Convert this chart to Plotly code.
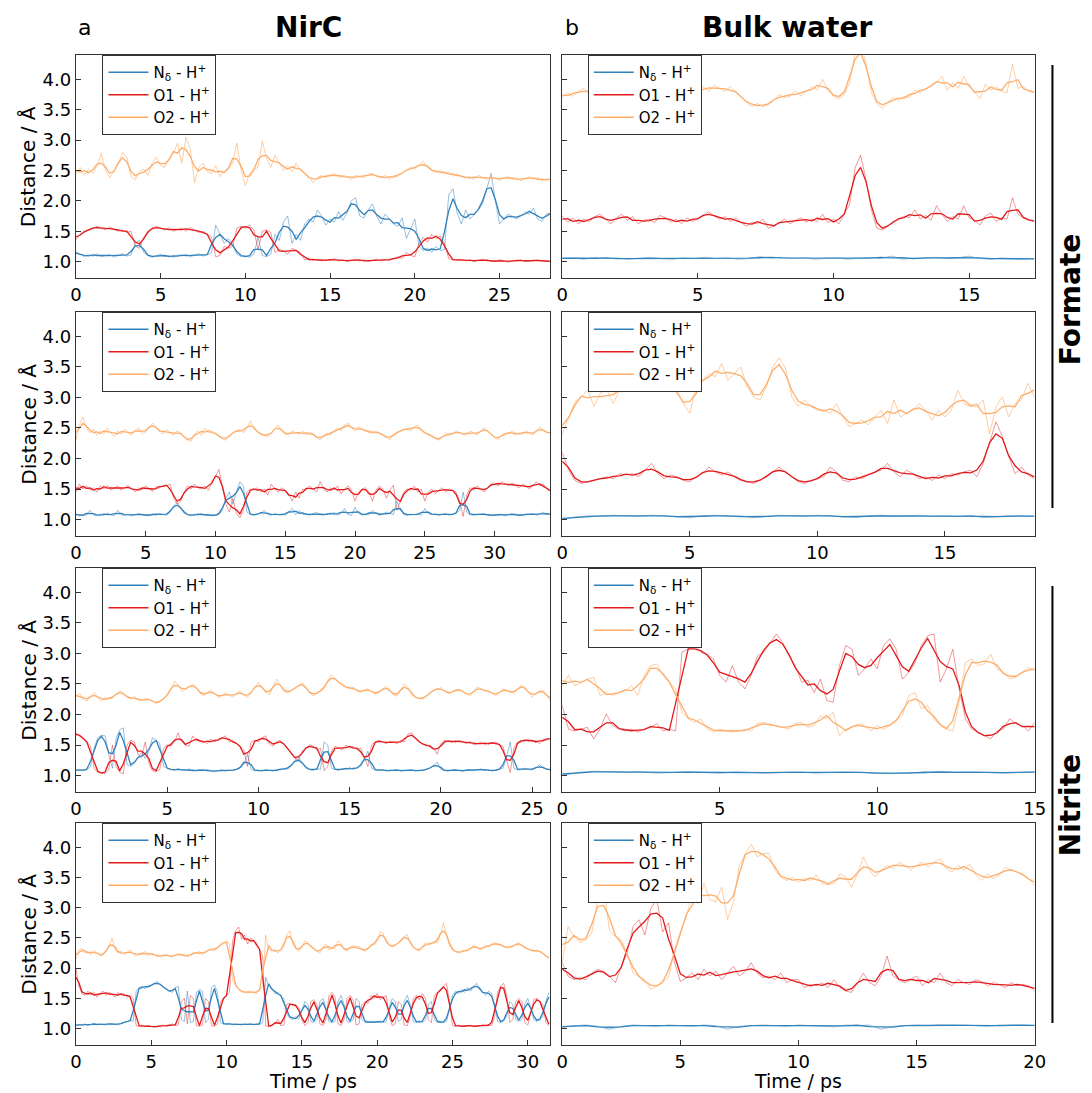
import numpy as np
import pandas as pd
import plotly.graph_objects as go

W, H = 1092, 1093

# ---------------- data (distances in Angstrom) ----------------
# Each series is sampled uniformly in time from 0 to the panel's end time.
SERIES_NAMES = ["N<sub>δ</sub> - H<sup>+</sup>", "O1 - H<sup>+</sup>", "O2 - H<sup>+</sup>"]
COLORS = ["#3182bd", "#e31a1c", "#fdae6b"]
RAW_COLORS = ["rgba(49,130,189,0.5)", "rgba(227,26,28,0.45)", "rgba(253,174,107,0.6)"]
SMOOTH_WINDOW = 3

# Panel a1: NirC / formate (0-28 ps)
A1_END = 28.0
A1_ND = [1.16, 1.12, 1.08, 1.11, 1.09, 1.13, 1.08, 1.10, 1.12, 1.07, 1.10, 1.13, 1.09, 1.11,
         1.30, 1.35, 1.15,
         1.10, 1.07, 1.09, 1.12, 1.08, 1.10, 1.07, 1.11, 1.09, 1.12, 1.08, 1.10, 1.13, 1.09, 1.11, 1.14,
         1.60, 1.45, 1.30, 1.38, 1.30, 1.12, 1.08, 1.10, 1.07, 1.12, 1.40, 1.10, 1.08, 1.12, 1.45, 1.35,
         1.65, 1.75, 1.30, 1.45, 1.35,
         1.62, 1.70, 1.65, 1.85, 1.75, 1.60, 1.70, 1.65, 1.82, 1.68, 1.80, 2.00, 2.05, 1.75, 1.72, 1.85,
         1.95, 1.75, 1.62, 1.78, 1.70, 1.62, 1.58, 1.72, 1.38, 1.55, 1.70,
         1.25, 1.18, 1.22, 1.15, 1.25, 1.18, 1.20,
         2.10, 2.20, 1.80, 1.62, 1.85, 1.70, 1.78, 1.85, 1.95, 2.20, 2.45, 2.00, 1.62, 1.70, 1.78, 1.75,
         1.70, 1.75, 1.82, 1.78, 1.88, 1.70, 1.66, 1.78, 1.80]
A1_O1 = [1.36, 1.45, 1.50, 1.52, 1.55, 1.58, 1.55, 1.52, 1.57, 1.54, 1.50, 1.52, 1.48, 1.50,
         1.25, 1.22, 1.40, 1.50, 1.55, 1.58, 1.55, 1.52, 1.56, 1.50, 1.53, 1.55, 1.50, 1.56, 1.52, 1.48,
         1.50, 1.45, 1.40,
         1.08, 1.10, 1.25, 1.22, 1.25, 1.55, 1.58, 1.55, 1.60, 1.52, 1.20, 1.50, 1.52, 1.48, 1.15, 1.20,
         1.18, 1.12, 1.22, 1.18, 1.15,
         1.03, 1.05, 1.02, 1.04, 1.01, 1.03, 1.02, 1.05, 1.01, 1.03, 1.00, 1.02, 1.04, 1.01, 1.03, 1.00,
         1.02, 1.04, 1.01, 1.03, 1.02, 1.05, 1.08, 1.05, 1.15, 1.10, 1.08,
         1.30, 1.40, 1.32, 1.45, 1.38, 1.42, 1.30,
         1.05, 1.03, 1.02, 1.04, 1.01, 1.03, 1.00, 1.02, 1.04, 1.01, 1.02, 1.00, 1.03, 1.01, 0.99, 1.02,
         1.01, 1.03, 1.00, 1.02, 1.01, 1.03, 1.02, 1.00, 1.01]
A1_O2 = [2.45, 2.55, 2.42, 2.52, 2.45, 2.58, 2.78, 2.50, 2.38, 2.48, 2.60, 2.80, 2.72, 2.40, 2.35, 2.48,
         2.52, 2.42, 2.62, 2.72, 2.58, 2.55, 2.70, 2.78, 2.95, 2.62,
         3.05, 2.85, 2.30, 2.55, 2.62, 2.48, 2.45, 2.58, 2.40, 2.48, 2.52, 2.62, 2.95, 2.50, 2.25, 2.45,
         2.52, 2.55, 2.98, 2.70, 2.55, 2.75, 2.62, 2.50, 2.58, 2.48, 2.62, 2.50, 2.45, 2.40, 2.30, 2.38,
         2.42, 2.38,
         2.42, 2.45, 2.38, 2.42, 2.40, 2.35, 2.42, 2.40, 2.38, 2.44, 2.45, 2.40, 2.38, 2.42, 2.35, 2.42,
         2.40, 2.46, 2.50, 2.55, 2.52, 2.58, 2.65, 2.55, 2.50, 2.47, 2.50, 2.44, 2.48, 2.40, 2.45, 2.40,
         2.37, 2.40, 2.35, 2.42, 2.38, 2.35, 2.40, 2.37, 2.34, 2.38, 2.40, 2.35, 2.38, 2.33, 2.36, 2.40,
         2.35, 2.38, 2.33, 2.36, 2.35]

# Panel b1: bulk water / formate (0-17.4 ps)
B1_END = 17.4
B1_ND = [1.05, 1.06, 1.04, 1.07, 1.05, 1.06, 1.04, 1.05, 1.07, 1.05, 1.04, 1.06, 1.05, 1.07, 1.05,
         1.06, 1.04, 1.05, 1.08, 1.06, 1.07, 1.05, 1.06, 1.04, 1.05, 1.06, 1.04, 1.05, 1.07, 1.05,
         1.09, 1.04, 1.06, 1.05, 1.07, 1.05, 1.06, 1.09, 1.05, 1.04, 1.06, 1.05, 1.04, 1.05]
B1_O1 = [1.75, 1.65, 1.72, 1.62, 1.70, 1.66, 1.74, 1.78, 1.70, 1.62, 1.72, 1.78, 1.68, 1.74, 1.62,
         1.68, 1.70, 1.64, 1.76, 1.72, 1.65, 1.70, 1.62, 1.72, 1.66, 1.70, 1.76, 1.82, 1.75, 1.70,
         1.74, 1.66, 1.72, 1.64, 1.58, 1.65, 1.62, 1.70, 1.55, 1.58, 1.64, 1.70, 1.62, 1.68, 1.72,
         1.65, 1.70, 1.66, 1.78, 1.64, 1.70, 1.62, 1.78, 1.95, 2.55, 2.75, 2.35, 1.85, 1.55, 1.52,
         1.58, 1.66, 1.70, 1.75, 1.72, 1.85, 1.70, 1.76, 1.68, 1.92, 1.78, 1.66, 1.74, 1.70, 1.92,
         1.72, 1.68, 1.60, 1.75, 1.80, 1.66, 1.72, 1.70, 2.05, 1.78, 1.72, 1.68, 1.66]
B1_O2 = [3.70, 3.78, 3.72, 3.80, 3.85, 3.75, 3.80, 3.72, 3.85, 3.78, 3.82, 3.75, 3.90, 3.80, 3.72,
         3.85, 3.78, 3.88, 3.80, 3.75, 3.82, 3.90, 3.78, 3.85, 3.75, 3.82, 3.88, 3.80, 3.90, 3.85,
         3.80, 3.88, 3.78, 3.72, 3.62, 3.55, 3.60, 3.55, 3.58, 3.66, 3.75, 3.70, 3.72, 3.82, 3.72,
         3.80, 3.88, 3.82, 4.00, 3.82, 3.72, 3.68, 3.75, 3.95, 4.45, 4.60, 4.25, 3.78, 3.60, 3.52,
         3.62, 3.70, 3.65, 3.72, 3.70, 3.82, 3.78, 3.85, 3.88, 3.95, 4.05, 3.82, 3.95, 3.85, 4.05,
         3.88, 3.80, 3.68, 3.92, 3.82, 3.88, 3.80, 3.78, 4.25, 3.85, 3.88, 3.80, 3.78]

# Panel a2: NirC / formate (0-34 ps)
A2_END = 34.0
A2_ND = [1.10, 1.06, 1.08, 1.07, 1.15, 1.08, 1.06, 1.09, 1.07, 1.10, 1.08, 1.06, 1.15, 1.08, 1.07, 1.09,
         1.06, 1.08, 1.10, 1.07, 1.08, 1.06, 1.09, 1.07, 1.10, 1.08, 1.07, 1.12, 1.22, 1.28, 1.20, 1.10,
         1.08, 1.06, 1.09, 1.07, 1.10, 1.07, 1.08, 1.06, 1.07, 1.08, 1.15, 1.35, 1.45, 1.25, 1.45, 1.62,
         1.55, 1.12, 1.08, 1.07, 1.09, 1.10, 1.15, 1.08, 1.07, 1.10, 1.08, 1.09, 1.07, 1.12, 1.18, 1.08,
         1.15, 1.08, 1.10, 1.07, 1.09, 1.12, 1.08, 1.07, 1.10, 1.08, 1.12, 1.07, 1.10, 1.18, 1.08, 1.07,
         1.20, 1.10, 1.07, 1.09, 1.08, 1.15, 1.10, 1.07, 1.09, 1.12, 1.10, 1.08, 1.30, 1.15, 1.08, 1.07,
         1.09, 1.08, 1.10, 1.07, 1.18, 1.10, 1.08, 1.09, 1.07, 1.08, 1.10, 1.07, 1.08, 1.10, 1.15, 1.45,
         1.12, 1.08, 1.07, 1.09, 1.08, 1.10, 1.07, 1.06, 1.08, 1.07, 1.09, 1.06, 1.08, 1.10, 1.07, 1.08,
         1.06, 1.09, 1.08, 1.10, 1.07, 1.09, 1.12, 1.08, 1.09]
A2_O1 = [1.45, 1.58, 1.50, 1.55, 1.48, 1.52, 1.45, 1.55, 1.50, 1.56, 1.48, 1.52, 1.55, 1.48, 1.52, 1.56,
         1.50, 1.45, 1.52, 1.48, 1.55, 1.50, 1.46, 1.54, 1.52, 1.56, 1.55, 1.58, 1.35, 1.25, 1.30, 1.45,
         1.55, 1.50, 1.58, 1.52, 1.50, 1.55, 1.48, 1.62, 1.70, 1.82, 1.55, 1.25, 1.12, 1.35, 1.10, 1.03,
         1.15, 1.45, 1.50, 1.48, 1.52, 1.45, 1.50, 1.40, 1.58, 1.50, 1.45, 1.52, 1.48, 1.42, 1.30, 1.45,
         1.35, 1.50, 1.48, 1.55, 1.50, 1.45, 1.62, 1.50, 1.45, 1.52, 1.48, 1.55, 1.42, 1.50, 1.55, 1.48,
         1.30, 1.45, 1.50, 1.52, 1.45, 1.30, 1.48, 1.55, 1.50, 1.35, 1.48, 1.56, 1.15, 1.30, 1.45, 1.50,
         1.48, 1.55, 1.45, 1.50, 1.30, 1.45, 1.50, 1.42, 1.48, 1.52, 1.45, 1.50, 1.48, 1.45, 1.30, 1.05,
         1.40, 1.52, 1.48, 1.55, 1.50, 1.45, 1.52, 1.58, 1.60, 1.55, 1.62, 1.58, 1.55, 1.60, 1.56, 1.52,
         1.58, 1.55, 1.50, 1.56, 1.62, 1.55, 1.58, 1.50, 1.45]
A2_O2 = [2.30, 2.55, 2.68, 2.50, 2.42, 2.48, 2.38, 2.45, 2.40, 2.50, 2.42, 2.36, 2.45, 2.40, 2.48, 2.42,
         2.38, 2.46, 2.50, 2.40, 2.44, 2.52, 2.58, 2.50, 2.45, 2.40, 2.48, 2.42, 2.38, 2.45, 2.42, 2.35,
         2.30, 2.28, 2.40, 2.45, 2.38, 2.50, 2.42, 2.45, 2.40, 2.38, 2.32, 2.30, 2.38, 2.42, 2.45, 2.48,
         2.42, 2.50, 2.62, 2.48, 2.45, 2.38, 2.40, 2.35, 2.42, 2.48, 2.55, 2.45, 2.40, 2.38, 2.45, 2.42,
         2.40, 2.45, 2.38, 2.43, 2.40, 2.35, 2.30, 2.38, 2.42, 2.38, 2.45, 2.50, 2.45, 2.55, 2.58, 2.50,
         2.45, 2.52, 2.48, 2.44, 2.46, 2.40, 2.45, 2.42, 2.38, 2.36, 2.30, 2.40, 2.42, 2.45, 2.48, 2.50,
         2.45, 2.52, 2.55, 2.45, 2.42, 2.40, 2.38, 2.32, 2.30, 2.35, 2.42, 2.38, 2.40, 2.45, 2.42, 2.40,
         2.38, 2.45, 2.42, 2.38, 2.45, 2.50, 2.45, 2.40, 2.35, 2.30, 2.38, 2.42, 2.40, 2.45, 2.38, 2.42,
         2.40, 2.45, 2.42, 2.38, 2.45, 2.52, 2.45, 2.42, 2.42]

# Panel b2: bulk water / formate (0-18.5 ps)
B2_END = 18.5
B2_ND = [1.00, 1.04, 1.06, 1.05, 1.07, 1.06, 1.05, 1.07, 1.06, 1.05, 1.03, 1.06, 1.07, 1.05, 1.06,
         1.03, 1.05, 1.07, 1.06, 1.05, 1.07, 1.06, 1.05, 1.03, 1.06, 1.07, 1.05, 1.06, 1.07, 1.05,
         1.06, 1.05, 1.07, 1.03, 1.05, 1.06, 1.06, 1.05]
B2_O1 = [2.10, 1.81, 1.64, 1.59, 1.62, 1.64, 1.67, 1.70, 1.67, 1.75, 1.73, 1.75, 1.70, 1.81, 1.92,
         1.75, 1.67, 1.73, 1.70, 1.64, 1.62, 1.70, 1.75, 1.86, 1.78, 1.73, 1.78, 1.70, 1.64, 1.62,
         1.59, 1.64, 1.70, 1.78, 1.86, 1.78, 1.70, 1.62, 1.59, 1.64, 1.67, 1.70, 1.86, 1.78, 1.64,
         1.62, 1.70, 1.67, 1.73, 1.78, 1.81, 1.92, 1.78, 1.70, 1.81, 1.75, 1.67, 1.70, 1.64, 1.73,
         1.67, 1.75, 1.73, 1.78, 1.81, 1.70, 1.92, 2.25, 2.60, 2.36, 2.03, 1.75, 1.86, 1.73, 1.67]
B2_O2 = [2.40, 2.68, 2.93, 3.01, 3.12, 2.85, 3.07, 3.12, 2.90, 3.12, 3.34, 3.28, 3.12, 3.45, 3.28,
         3.50, 3.39, 3.17, 3.12, 2.90, 2.74, 3.17, 3.28, 3.39, 3.34, 3.56, 3.28, 3.39, 3.50, 3.17,
         3.01, 2.96, 3.17, 3.50, 3.65, 3.48, 3.01, 2.85, 2.96, 2.85, 2.79, 2.80, 2.74, 2.90, 2.68,
         2.52, 2.57, 2.63, 2.55, 2.68, 2.79, 2.57, 2.96, 2.68, 2.74, 2.79, 2.90, 2.79, 2.63, 2.79,
         2.68, 2.79, 3.12, 2.90, 2.85, 2.85, 2.96, 2.40, 2.85, 3.01, 2.68, 2.90, 2.96, 3.23, 3.01]

# Panel a3: NirC / nitrite (0-26 ps)
A3_END = 26.0
A3_ND = [1.08, 1.10, 1.08, 1.09, 1.15, 1.45, 1.62, 1.66, 1.65, 1.35, 1.12, 1.60, 1.75, 1.78, 1.18,
         1.15, 1.20, 1.30, 1.38, 1.28, 1.40, 1.62, 1.58, 1.52, 1.15, 1.12, 1.10, 1.08, 1.12, 1.09,
         1.08, 1.11, 1.07, 1.09, 1.08, 1.10, 1.07, 1.09, 1.06, 1.08, 1.10, 1.07, 1.09, 1.08, 1.10,
         1.12, 1.18, 1.35, 1.10, 1.08, 1.09, 1.07, 1.10, 1.08, 1.07, 1.10, 1.09, 1.12, 1.10, 1.15,
         1.25, 1.30, 1.20, 1.12, 1.10, 1.08, 1.12, 1.10, 1.55, 1.50, 1.12, 1.10, 1.08, 1.12, 1.10,
         1.13, 1.10, 1.12, 1.15, 1.25, 1.40, 1.12, 1.09, 1.08, 1.10, 1.07, 1.09, 1.08, 1.10, 1.07,
         1.09, 1.08, 1.10, 1.07, 1.09, 1.08, 1.10, 1.12, 1.15, 1.22, 1.10, 1.08, 1.07, 1.09, 1.10,
         1.08, 1.07, 1.09, 1.10, 1.08, 1.09, 1.11, 1.08, 1.10, 1.07, 1.09, 1.10, 1.12, 1.30, 1.55,
         1.12, 1.09, 1.10, 1.12, 1.10, 1.09, 1.12, 1.18, 1.12, 1.10, 1.09]
A3_O1 = [1.70, 1.65, 1.62, 1.55, 1.48, 1.12, 1.05, 1.04, 1.03, 1.10, 1.50, 1.15, 1.05, 1.03, 1.50,
         1.58, 1.55, 1.35, 1.30, 1.55, 1.20, 1.08, 1.06, 1.10, 1.45, 1.50, 1.48, 1.55, 1.70, 1.55,
         1.50, 1.48, 1.65, 1.58, 1.55, 1.57, 1.52, 1.60, 1.55, 1.58, 1.62, 1.65, 1.55, 1.58, 1.52,
         1.48, 1.42, 1.15, 1.55, 1.58, 1.55, 1.62, 1.65, 1.52, 1.48, 1.55, 1.58, 1.52, 1.45, 1.35,
         1.28, 1.25, 1.40, 1.45, 1.50, 1.48, 1.42, 1.45, 1.08, 1.15, 1.40, 1.48, 1.45, 1.42, 1.50,
         1.45, 1.48, 1.42, 1.45, 1.30, 1.15, 1.50, 1.55, 1.58, 1.55, 1.52, 1.56, 1.55, 1.52, 1.58,
         1.55, 1.68, 1.70, 1.60, 1.55, 1.52, 1.48, 1.50, 1.45, 1.35, 1.52, 1.58, 1.55, 1.57, 1.54,
         1.58, 1.55, 1.52, 1.56, 1.50, 1.52, 1.55, 1.50, 1.54, 1.52, 1.55, 1.50, 1.48, 1.25, 1.05,
         1.45, 1.55, 1.58, 1.56, 1.60, 1.55, 1.58, 1.52, 1.60, 1.58, 1.62]
A3_O2 = [2.28, 2.35, 2.25, 2.22, 2.30, 2.36, 2.28, 2.22, 2.28, 2.25, 2.27, 2.33, 2.39, 2.35, 2.28,
         2.25, 2.30, 2.24, 2.22, 2.26, 2.25, 2.22, 2.18, 2.20, 2.26, 2.31, 2.40, 2.55, 2.48, 2.38,
         2.42, 2.45, 2.50, 2.45, 2.35, 2.30, 2.36, 2.40, 2.34, 2.28, 2.30, 2.36, 2.32, 2.28, 2.35,
         2.38, 2.32, 2.28, 2.35, 2.45, 2.53, 2.45, 2.36, 2.32, 2.45, 2.58, 2.48, 2.38, 2.35, 2.40,
         2.42, 2.48, 2.52, 2.45, 2.35, 2.30, 2.36, 2.38, 2.42, 2.55, 2.65, 2.58, 2.52, 2.48, 2.45,
         2.42, 2.45, 2.38, 2.36, 2.40, 2.42, 2.38, 2.33, 2.36, 2.42, 2.46, 2.40, 2.32, 2.30, 2.40,
         2.50, 2.44, 2.32, 2.28, 2.26, 2.25, 2.30, 2.36, 2.40, 2.42, 2.44, 2.38, 2.34, 2.36, 2.40,
         2.42, 2.38, 2.33, 2.30, 2.38, 2.45, 2.42, 2.38, 2.40, 2.35, 2.30, 2.36, 2.42, 2.40, 2.36,
         2.35, 2.42, 2.48, 2.45, 2.36, 2.28, 2.35, 2.38, 2.40, 2.32, 2.22]

# Panel b3: bulk water / nitrite (0-15 ps)
B3_END = 15.0
B3_ND = [1.00, 1.05, 1.07, 1.06, 1.05, 1.06, 1.04, 1.05, 1.06, 1.05, 1.04, 1.06, 1.05, 1.04, 1.05,
         1.06, 1.04, 1.05, 1.06, 1.05, 1.04, 1.03, 1.05, 1.04, 1.07, 1.05, 1.06, 1.05, 1.04, 1.05, 1.06]
B3_O1 = [2.15, 1.76, 1.73, 1.76, 1.79, 1.60, 1.76, 2.01, 1.82, 1.76, 1.73, 1.76, 1.71, 1.76, 1.79,
         1.85, 1.73, 1.76, 1.73, 3.02, 3.07, 3.13, 3.02, 2.99, 2.91, 2.64, 2.53, 2.80, 2.53, 2.42,
         2.64, 2.96, 3.02, 3.18, 3.32, 3.18, 2.96, 2.80, 2.53, 2.56, 2.36, 2.58, 2.23, 2.20, 2.80,
         3.13, 3.07, 2.64, 2.75, 2.91, 2.75, 3.13, 3.24, 3.07, 2.58, 2.69, 2.85, 3.13, 3.29, 3.32,
         2.53, 2.75, 3.07, 2.42, 1.93, 1.76, 1.71, 1.65, 1.60, 1.73, 1.76, 1.93, 1.85, 1.82, 1.73, 1.87]
B3_O2 = [2.47, 2.64, 2.47, 2.53, 2.58, 2.61, 2.31, 2.36, 2.31, 2.36, 2.39, 2.47, 2.31, 2.64, 2.80,
         2.83, 2.64, 2.53, 2.42, 2.04, 1.93, 1.87, 1.93, 1.76, 1.71, 1.76, 1.73, 1.71, 1.73, 1.76,
         1.73, 1.85, 1.87, 1.82, 1.82, 1.79, 1.76, 1.85, 1.87, 1.79, 1.82, 1.98, 1.93, 2.04, 1.65,
         1.76, 1.79, 1.85, 1.82, 1.73, 1.82, 1.76, 1.82, 1.90, 1.98, 2.31, 2.36, 2.09, 2.15, 1.93,
         1.82, 1.76, 1.73, 2.20, 2.85, 2.91, 2.80, 2.83, 2.99, 2.75, 2.69, 2.58, 2.61, 2.69, 2.77, 2.72]

# Panel a4: NirC / nitrite (0-31.4 ps)
A4_END = 31.4
A4_ND = [1.05, 1.07, 1.06, 1.08, 1.05, 1.07, 1.09, 1.06, 1.08, 1.07, 1.06, 1.09, 1.07, 1.08, 1.06,
         1.09, 1.10, 1.12, 1.15, 1.12, 1.62, 1.68, 1.70, 1.66, 1.72, 1.70, 1.75, 1.78, 1.72, 1.70,
         1.65, 1.62, 1.60, 1.68, 1.70, 1.15, 1.12, 1.62, 1.10, 1.12, 1.60, 1.65, 1.62, 1.10, 1.15,
         1.68, 1.72, 1.60, 1.10, 1.08, 1.07, 1.09, 1.06, 1.08, 1.07, 1.06, 1.08, 1.07, 1.09, 1.06,
         1.08, 1.07, 1.10, 1.85, 1.70, 1.68, 1.58, 1.60, 1.55, 1.50, 1.25, 1.18, 1.15, 1.20, 1.15,
         1.30, 1.45, 1.40, 1.12, 1.10, 1.15, 1.45, 1.50, 1.35, 1.12, 1.10, 1.12, 1.45, 1.55, 1.40,
         1.12, 1.10, 1.15, 1.50, 1.45, 1.15, 1.10, 1.12, 1.10, 1.12, 1.10, 1.13, 1.10, 1.12, 1.35,
         1.50, 1.45, 1.12, 1.15, 1.45, 1.55, 1.40, 1.12, 1.10, 1.13, 1.10, 1.15, 1.40, 1.45, 1.15,
         1.10, 1.12, 1.10, 1.12, 1.30, 1.55, 1.62, 1.58, 1.65, 1.60, 1.68, 1.62, 1.70, 1.75, 1.65,
         1.60, 1.55, 1.62, 1.58, 1.40, 1.12, 1.10, 1.13, 1.20, 1.45, 1.40, 1.15, 1.12, 1.15, 1.40,
         1.50, 1.35, 1.15, 1.12, 1.15, 1.20, 1.45, 1.60]
A4_O1 = [2.00, 1.70, 1.58, 1.55, 1.62, 1.55, 1.60, 1.52, 1.58, 1.62, 1.55, 1.60, 1.57, 1.52, 1.60,
         1.55, 1.58, 1.52, 1.55, 1.50, 1.05, 1.04, 1.06, 1.03, 1.05, 1.04, 1.02, 1.05, 1.03, 1.06,
         1.04, 1.05, 1.08, 1.05, 1.06, 1.45, 1.50, 1.08, 1.55, 1.50, 1.05, 1.04, 1.06, 1.50, 1.45,
         1.05, 1.04, 1.08, 1.45, 1.50, 1.55, 1.60, 2.45, 2.62, 2.68, 2.48, 2.55, 2.40, 2.50, 2.45,
         2.42, 2.30, 2.20, 1.05, 1.03, 1.05, 1.08, 1.15, 1.05, 1.06, 1.40, 1.42, 1.38, 1.40, 1.35,
         1.15, 1.05, 1.10, 1.45, 1.48, 1.40, 1.08, 1.05, 1.15, 1.55, 1.60, 1.52, 1.08, 1.05, 1.15,
         1.50, 1.55, 1.48, 1.06, 1.08, 1.40, 1.45, 1.42, 1.55, 1.50, 1.58, 1.48, 1.52, 1.55, 1.20,
         1.05, 1.08, 1.45, 1.40, 1.06, 1.05, 1.20, 1.50, 1.55, 1.48, 1.58, 1.50, 1.15, 1.10, 1.55,
         1.60, 1.62, 1.70, 1.75, 1.45, 1.05, 1.04, 1.06, 1.03, 1.05, 1.04, 1.06, 1.03, 1.05, 1.04,
         1.06, 1.05, 1.07, 1.05, 1.20, 1.60, 1.70, 1.75, 1.55, 1.10, 1.15, 1.45, 1.50, 1.45, 1.10,
         1.06, 1.25, 1.48, 1.50, 1.45, 1.40, 1.10, 1.05]
A4_O2 = [2.15, 2.30, 2.33, 2.25, 2.28, 2.22, 2.30, 2.25, 2.20, 2.22, 2.28, 2.35, 2.50, 2.30, 2.25,
         2.28, 2.22, 2.26, 2.30, 2.24, 2.20, 2.25, 2.22, 2.28, 2.20, 2.25, 2.23, 2.18, 2.22, 2.19,
         2.24, 2.20, 2.18, 2.22, 2.25, 2.20, 2.23, 2.18, 2.22, 2.26, 2.24, 2.28, 2.22, 2.27, 2.30,
         2.33, 2.28, 2.35, 2.38, 2.42, 2.46, 2.40, 1.80, 1.72, 1.65, 1.60, 1.62, 1.58, 1.62, 1.60,
         1.58, 1.65, 1.70, 2.55, 2.30, 2.28, 2.32, 2.25, 2.30, 2.35, 2.55, 2.62, 2.40, 2.32, 2.28,
         2.35, 2.45, 2.42, 2.35, 2.32, 2.28, 2.25, 2.35, 2.40, 2.30, 2.35, 2.32, 2.45, 2.40, 2.30,
         2.28, 2.35, 2.38, 2.32, 2.36, 2.30, 2.28, 2.32, 2.40, 2.38, 2.45, 2.60, 2.58, 2.42, 2.38,
         2.35, 2.38, 2.42, 2.45, 2.52, 2.56, 2.40, 2.35, 2.30, 2.28, 2.35, 2.42, 2.38, 2.40, 2.45,
         2.42, 2.55, 2.75, 2.55, 2.38, 2.30, 2.28, 2.25, 2.27, 2.30, 2.28, 2.32, 2.38, 2.35, 2.30,
         2.33, 2.38, 2.35, 2.40, 2.42, 2.38, 2.40, 2.35, 2.33, 2.36, 2.35, 2.40, 2.42, 2.38, 2.33,
         2.32, 2.30, 2.27, 2.30, 2.28, 2.25, 2.20, 2.15]

# Panel b4: bulk water / nitrite (0-20 ps)
B4_END = 20.0
B4_ND = [1.02, 1.05, 1.06, 1.04, 0.99, 1.04, 1.06, 1.05, 1.04, 1.06, 1.05, 1.04, 1.06, 1.05, 0.99,
         1.04, 1.05, 1.06, 1.05, 1.04, 1.06, 1.05, 1.04, 1.03, 1.06, 1.05, 1.06, 0.99, 1.04, 1.05,
         1.06, 1.05, 1.06, 1.05, 1.06, 1.05, 1.04, 1.06, 1.05, 1.06, 1.05]
B4_O1 = [2.09, 1.87, 1.81, 1.84, 1.81, 1.92, 1.98, 1.95, 1.87, 1.76, 2.03, 2.25, 2.69, 2.80, 2.55,
         2.98, 3.15, 2.60, 2.75, 2.10, 1.78, 1.84, 1.92, 1.81, 1.98, 1.87, 1.95, 1.81, 1.92, 2.03,
         1.87, 1.95, 2.09, 1.92, 1.84, 1.87, 1.81, 1.92, 1.76, 1.81, 1.81, 1.68, 1.73, 1.71, 1.76,
         1.68, 1.81, 1.68, 1.62, 1.60, 1.76, 1.92, 1.76, 1.71, 1.87, 2.20, 1.87, 1.81, 1.76, 1.81,
         1.87, 1.71, 1.81, 1.76, 1.92, 1.76, 1.71, 1.81, 1.76, 1.73, 1.81, 1.78, 1.71, 1.76, 1.73,
         1.68, 1.76, 1.71, 1.73, 1.71, 1.62]
B4_O2 = [2.09, 2.69, 2.52, 2.42, 2.47, 2.58, 3.13, 3.35, 2.63, 2.52, 2.47, 2.25, 1.92, 1.87, 1.81,
         1.65, 1.70, 1.76, 1.85, 2.30, 2.60, 2.85, 3.20, 3.07, 3.40, 3.13, 3.10, 3.34, 2.80, 3.10,
         3.70, 3.89, 4.05, 3.84, 3.89, 3.90, 3.62, 3.50, 3.45, 3.50, 3.42, 3.48, 3.45, 3.54, 3.40,
         3.38, 3.40, 3.56, 3.51, 3.34, 3.56, 3.84, 3.62, 3.51, 3.62, 3.70, 3.65, 3.75, 3.70, 3.62,
         3.70, 3.75, 3.67, 3.75, 3.81, 3.65, 3.59, 3.70, 3.62, 3.72, 3.55, 3.45, 3.56, 3.48, 3.54,
         3.67, 3.62, 3.59, 3.56, 3.48, 3.37]

# Axis extents (ps) and tick labels
X_MAX = [28.0, 17.42, 34.0, 18.52, 26.0, 15.0, 31.5, 20.0]
Y_RANGE = [0.73, 4.40]
Y_TICKS = [1.0, 1.5, 2.0, 2.5, 3.0, 3.5, 4.0]
Y_TICK_TEXT = ["1.0", "1.5", "2.0", "2.5", "3.0", "3.5", "4.0"]

PANELS = [
    (A1_END, A1_ND, A1_O1, A1_O2), (B1_END, B1_ND, B1_O1, B1_O2),
    (A2_END, A2_ND, A2_O1, A2_O2), (B2_END, B2_ND, B2_O1, B2_O2),
    (A3_END, A3_ND, A3_O1, A3_O2), (B3_END, B3_ND, B3_O1, B3_O2),
    (A4_END, A4_ND, A4_O1, A4_O2), (B4_END, B4_ND, B4_O1, B4_O2),
]

# ---------------- layout geometry (pixels) ----------------
COL_PX = [(71, 553), (565, 1045)]
ROW_PX = [(55, 278), (312, 536), (568, 792), (823, 1045)]
LEG_LEFT_PX = [98, 591]

FONT = "DejaVu Sans"
AX_COLOR = "#333333"


def smooth(vals):
    return pd.Series(vals).rolling(SMOOTH_WINDOW, center=True, min_periods=1).mean().to_numpy()


fig = go.Figure()
layout = {}

for k, (t_end, nd, o1, o2) in enumerate(PANELS):
    idx = k + 1
    row, col = divmod(k, 2)
    xa = "x" if idx == 1 else f"x{idx}"
    ya = "y" if idx == 1 else f"y{idx}"
    leg = "legend" if idx == 1 else f"legend{idx}"
    series = [nd, o1, o2]
    # raw (light) traces
    for s, vals in enumerate(series):
        t = np.linspace(0, t_end, len(vals))
        fig.add_trace(go.Scatter(x=t, y=vals, mode="lines", xaxis=xa, yaxis=ya,
                                 line=dict(color=RAW_COLORS[s], width=1),
                                 showlegend=False, hoverinfo="skip"))
    # smoothed traces
    for s, vals in enumerate(series):
        t = np.linspace(0, t_end, len(vals))
        fig.add_trace(go.Scatter(x=t, y=smooth(vals), mode="lines", xaxis=xa, yaxis=ya,
                                 line=dict(color=COLORS[s], width=1.3),
                                 name=SERIES_NAMES[s], legend=leg, showlegend=True))

    x0, x1 = COL_PX[col]
    top, bot = ROW_PX[row]
    xkey = "xaxis" if idx == 1 else f"xaxis{idx}"
    ykey = "yaxis" if idx == 1 else f"yaxis{idx}"
    layout[xkey] = dict(domain=[x0 / W, x1 / W], anchor=ya, range=[0, X_MAX[k]],
                        tick0=0, dtick=5, ticks="inside", ticklen=5, tickcolor=AX_COLOR,
                        showline=True, linecolor=AX_COLOR, linewidth=1.3, mirror=True,
                        showgrid=False, zeroline=False,
                        tickfont=dict(family=FONT, size=18, color="black"))
    layout[ykey] = dict(domain=[1 - bot / H, 1 - top / H], anchor=xa, range=Y_RANGE,
                        tickvals=Y_TICKS, ticktext=Y_TICK_TEXT, showticklabels=(col == 0),
                        ticks="inside", ticklen=5, tickcolor=AX_COLOR,
                        showline=True, linecolor=AX_COLOR, linewidth=1.3, mirror=True,
                        showgrid=False, zeroline=False,
                        tickfont=dict(family=FONT, size=18, color="black"))
    layout[leg] = dict(x=LEG_LEFT_PX[col] / W, y=1 - top / H, xanchor="left", yanchor="top",
                       bgcolor="white", bordercolor=AX_COLOR, borderwidth=1,
                       font=dict(family=FONT, size=15, color="black"),
                       tracegroupgap=0, itemwidth=40)

annotations = []
for x_px, txt, size in [(80, "a", 22), (307, "<b>NirC</b>", 28), (575, "b", 22), (793, "<b>Bulk water</b>", 28)]:
    annotations.append(dict(x=x_px / W, y=1 - 28 / H, xref="paper", yref="paper", text=txt,
                            showarrow=False, xanchor="center", yanchor="middle",
                            font=dict(family=FONT, size=size, color="black")))
for top, bot in ROW_PX:
    annotations.append(dict(x=23 / W, y=1 - (top + bot) / 2 / H, xref="paper", yref="paper",
                            text="Distance / Å", textangle=-90, showarrow=False,
                            xanchor="center", yanchor="middle",
                            font=dict(family=FONT, size=20, color="black")))
for x0, x1 in COL_PX:
    annotations.append(dict(x=(x0 + x1) / 2 / W, y=0, xref="paper", yref="paper",
                            text="Time / ps", showarrow=False, xanchor="center", yanchor="bottom",
                            borderpad=0,
                            font=dict(family=FONT, size=19, color="black")))
for y_px, txt in [(300, "<b>Formate</b>"), (805, "<b>Nitrite</b>")]:
    annotations.append(dict(x=1081 / W, y=1 - y_px / H, xref="paper", yref="paper", text=txt,
                            textangle=-90, showarrow=False, xanchor="center", yanchor="middle",
                            font=dict(family=FONT, size=28, color="black")))

shapes = [
    dict(type="line", xref="paper", yref="paper", x0=1063 / W, x1=1063 / W,
         y0=1 - 65 / H, y1=1 - 508 / H, line=dict(color="black", width=2)),
    dict(type="line", xref="paper", yref="paper", x0=1063 / W, x1=1063 / W,
         y0=1 - 586 / H, y1=1 - 1023 / H, line=dict(color="black", width=2)),
]

fig.update_layout(width=W, height=H, autosize=False, margin=dict(l=0, r=0, t=0, b=0),
                  paper_bgcolor="white", plot_bgcolor="white",
                  font=dict(family=FONT, color="black"),
                  annotations=annotations, shapes=shapes, **layout)

fig.write_html("out.html")
